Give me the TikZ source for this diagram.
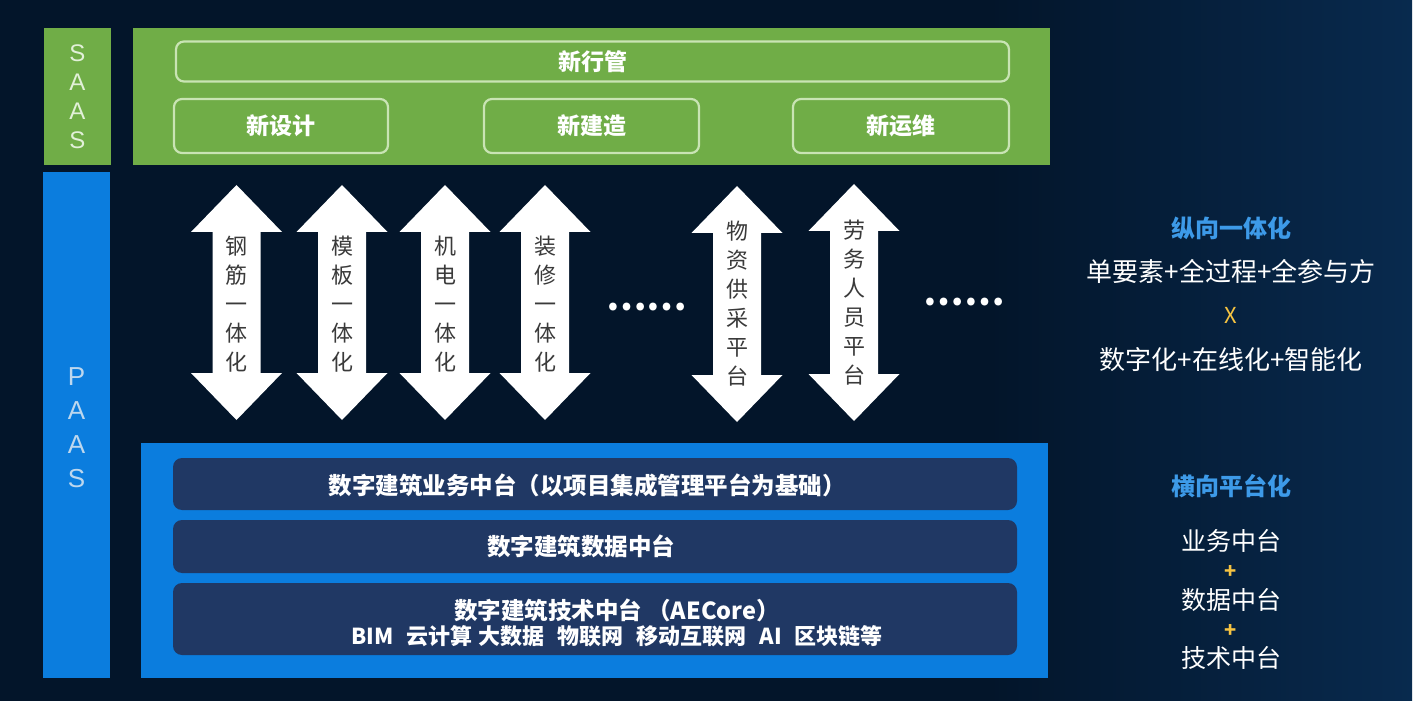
\documentclass[tikz,border=0pt]{standalone}
\usepackage{fontspec}
\setmainfont{Noto Sans CJK SC}
\newfontfamily\latinsans{Liberation Sans}
\usepackage{xcolor}
\usepackage{tikz}
\usetikzlibrary{positioning}
\definecolor{bgdark}{HTML}{03152A}
\definecolor{bgedge}{HTML}{082A4E}
\definecolor{saasgreen}{HTML}{70AD47}
\definecolor{saasline}{HTML}{C9E4B4}
\definecolor{saastext}{HTML}{E2F0D9}
\definecolor{paasblue}{HTML}{0B7DDE}
\definecolor{paastext}{HTML}{BDD7EE}
\definecolor{layerbg}{HTML}{203864}
\definecolor{headblue}{HTML}{3D9AE8}
\definecolor{accent}{HTML}{F5C342}
\definecolor{vtext}{HTML}{3A3A3A}
\pgfdeclarehorizontalshading{backdrop}{100bp}{color(0bp)=(bgdark); color(25bp)=(bgdark); color(60bp)=(bgdark); color(75bp)=(bgedge); color(100bp)=(bgedge)}
\tikzset{
    tier/.style={rectangle, inner sep=0pt, minimum width=67pt, align=center, font=\latinsans\fontsize{24}{29}\selectfont},
    panel/.style={rectangle, inner sep=0pt},
    module/.style={rectangle, draw=saasline, line width=2.2pt, rounded corners=8pt, inner sep=0pt, text=white, font=\bfseries\fontsize{23}{28}\selectfont},
    layer/.style={rectangle, fill=layerbg, rounded corners=9pt, inner sep=0pt, minimum width=844pt},
    layertext/.style={align=center, inner sep=0pt, text=white, font=\bfseries\fontsize{23.5}{27}\selectfont},
    vlabel/.style={align=center, inner sep=0pt, text=vtext, font=\fontsize{22}{29}\selectfont},
    more/.style={text=white, inner sep=0pt, font=\bfseries\fontsize{36}{36}\selectfont},
    heading/.style={text=headblue, inner sep=0pt, font=\bfseries\fontsize{24}{28}\selectfont},
    note/.style={text=white, inner sep=0pt, font=\fontsize{26}{30}\selectfont},
    joiner/.style={text=accent, inner sep=0pt, font=\bfseries\fontsize{20}{24}\selectfont}
}
\begin{document}
\begin{tikzpicture}[x=1pt, y=-1pt]
    \fill[white] (0,0) rectangle (1422,703);
    \shade[shading=backdrop] (0,0) rectangle (1412,700);
    \useasboundingbox (0,0) rectangle (1422,703);

    % SaaS
    \node[tier, fill=saasgreen, text=saastext, minimum height=137pt] (saas) at (77.5,96.5) {S\\A\\A\\S};
    \node[panel, fill=saasgreen, minimum width=917pt, minimum height=137pt] (saaspanel) at (591.5,96.5) {};
    \node[module, minimum width=833pt, minimum height=40pt] (xhg) at (592.5,61.5) {新行管};
    \node[module, minimum width=214pt, minimum height=54pt] (xsj) at (281,126) {新设计};
    \node[module, minimum width=215pt, minimum height=54pt] (xjz) at (591.5,126) {新建造};
    \node[module, minimum width=216pt, minimum height=54pt] (xyw) at (901,126) {新运维};

    % PaaS
    \node[tier, fill=paasblue, text=paastext, minimum height=506pt, font=\latinsans\fontsize{26}{34}\selectfont] (paas) at (76.5,425) {};
    \node[tier, text=paastext, font=\latinsans\fontsize{26}{34}\selectfont] (paastext) at ([yshift=-3pt]paas.center) {P\\A\\A\\S};
    \node[panel, fill=paasblue, minimum width=907pt, minimum height=235pt] (paaspanel) at (594.5,560.5) {};
    \node[layer, minimum height=52pt] (biz) at (595,484) {};
    \node[layer, minimum height=53pt] (dat) at (595,546.5) {};
    \node[layer, minimum height=72pt] (tec) at (595,619) {};
    \node[layertext] (biztext) at ([xshift=-8pt, yshift=-1pt]biz.center) {数字建筑业务中台（以项目集成管理平台为基础）};
    \node[layertext] (dattext) at ([xshift=-14pt]dat.center) {数字建筑数据中台};
    \node[layertext] (tectext) at ([xshift=22pt, yshift=-4pt]tec.center) {数字建筑技术中台 （AECore）\\[-2pt]{\fontsize{22}{27}\selectfont BIM\hspace{13pt}云计算\hspace{6pt}大数据\hspace{13pt}物联网\hspace{13pt}移动互联网\hspace{13pt}AI\hspace{13pt}区块链等}};

    % vertical integration arrows
    \foreach \n/\cx/\cy/\h in {gj/236.5/302.5/117.5, mb/342/302.5/117.5, jd/445/302.5/117.5, zx/545/302.5/117.5, wz/737/304/118, lw/854/302.5/118.5} {
        \coordinate (\n) at (\cx,\cy);
        \fill[white, shift={(\n)}] (0,-\h) -- (45.5,47-\h) -- (24,47-\h) -- (24,\h-47) -- (45.5,\h-47) -- (0,\h)
            -- (-45.5,\h-47) -- (-24,\h-47) -- (-24,47-\h) -- (-45.5,47-\h) -- cycle;
    }
    \node[vlabel] (gjt) at ([yshift=-2pt]gj) {钢\\筋\\一\\体\\化};
    \node[vlabel] (mbt) at ([yshift=-2pt]mb) {模\\板\\一\\体\\化};
    \node[vlabel] (jdt) at ([yshift=-2pt]jd) {机\\电\\一\\体\\化};
    \node[vlabel] (zxt) at ([yshift=-2pt]zx) {装\\修\\一\\体\\化};
    \node[vlabel] (wzt) at (wz) {物\\资\\供\\采\\平\\台};
    \node[vlabel] (lwt) at (lw) {劳\\务\\人\\员\\平\\台};
    \node[more] (more1) at (646.5,307) {……};
    \node[more] (more2) at (964,302) {……};

    % right column
    \node[heading] (vhead) at (1231,228) {纵向一体化};
    \node[note] (vline1) at (1231,272) {单要素+全过程+全参与方};
    \node[joiner, font=\fontsize{22}{24}\selectfont] (times) at (1231,315) {X};
    \node[note] (vline2) at (1231,360) {数字化+在线化+智能化};
    \node[heading] (hhead) at (1231,486) {横向平台化};
    \node[note, font=\fontsize{25}{30}\selectfont] (hl1) at (1231,541) {业务中台};
    \node[joiner] (plus1) at (1231,572) {+};
    \node[note, font=\fontsize{25}{30}\selectfont] (hl2) at (1231,600) {数据中台};
    \node[joiner] (plus2) at (1231,631) {+};
    \node[note, font=\fontsize{25}{30}\selectfont] (hl3) at (1231,658) {技术中台};
\end{tikzpicture}
\end{document}
